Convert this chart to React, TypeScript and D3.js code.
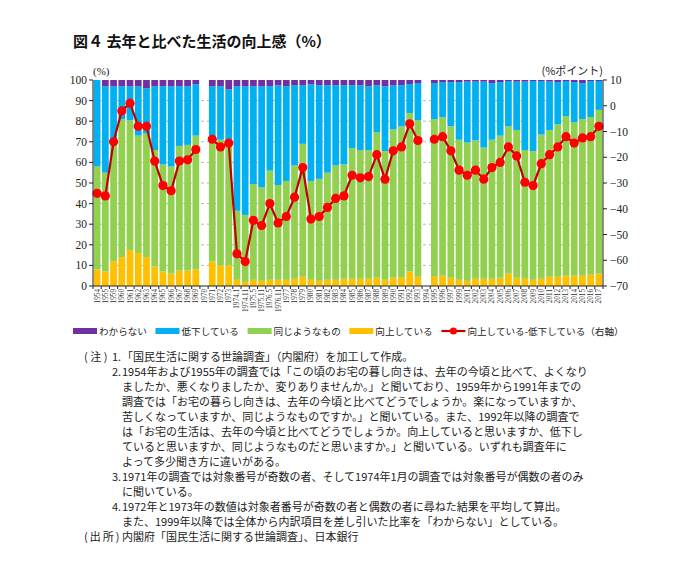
import React from 'react';
import * as d3 from 'd3';

// survey rounds (1970 and 1994 have no survey)
const years = [
  '1954', '1955', '1959', '1960', '1961', '1962', '1963', '1964', '1965', '1966', '1967', '1968', '1969', '1970',
  '1971', '1972', '1973', '1974.1', '1974.11', '1975.5', '1975.11', '1976.5', '1976.11',
  '1977', '1978', '1979', '1980', '1981', '1982', '1983', '1984', '1985', '1986', '1987', '1988', '1989',
  '1990', '1991', '1992', '1993', '1994', '1995', '1996', '1997', '1999',
  '2001', '2002', '2003', '2004', '2005', '2006', '2007', '2008', '2009', '2010', '2011', '2012',
  '2013', '2014', '2015', '2016', '2017',
];

// わからない
const dunno = [
  0, 3, 3, 3, 3, 3, 4, 3, 3, 3, 3, 3, 2, null,
  3, 3, 4.5, 3, 3, 3, 3, 3, 2.5,
  3, 2.5, 2.5, 2, 2.5, 2.5, 2.5, 2.5, 2.5, 2.5, 3, 2.5, 3,
  2.5, 2.5, 2, 1.5, null, 1.5, 1, 1, 1,
  0.8, 0.8, 0.8, 1.5, 1, 0.5, 0.8, 0.8, 0.5, 0.5, 0.8, 1,
  0.5, 1, 1.5, 0.5, 0.5,
];
// 低下している
const down = [
  42, 42, 26, 16, 16.5, 24, 22, 31, 38, 39, 29, 28.5, 25, null,
  25, 26, 24.5, 60.5, 62.5, 47.5, 49, 41, 48.5,
  46, 39, 28.5, 47, 45.5, 42.5, 39, 38.5, 30.5, 31.5, 31, 23, 31.5,
  21.5, 20, 14, 18, null, 17.5, 17, 21.5, 28,
  29.5, 28.5, 32, 27.5, 26, 22, 23.5, 33.2, 34, 26, 23.5, 20.5,
  17, 19.5, 17.5, 17.5, 14,
];
// 同じようなもの
const same = [
  50, 48, 59, 67, 63, 57, 60, 56.5, 52, 52, 60.5, 61, 65, null,
  60, 61, 61, 33.5, 32.5, 46.5, 45.5, 53, 46,
  48, 55, 64.5, 48, 49.5, 52, 55.5, 55.5, 63.5, 62.5, 62.5, 70.5, 62.5,
  72, 73.5, 77, 76, null, 76.5, 77, 73.5, 68,
  67.2, 67.2, 63.7, 67.5, 69, 71.5, 71.7, 62.5, 62.5, 70, 71.2, 74,
  77.5, 74.5, 76, 76.5, 79.5,
];
// 向上している
const up = [
  8, 7, 12, 14, 17.5, 16, 14, 9.5, 7, 6, 7.5, 7.5, 8, null,
  12, 10, 10, 3, 2, 3, 2.5, 3, 3,
  3, 3.5, 4.5, 3, 2.5, 3, 3, 3.5, 3.5, 3.5, 3.5, 4, 3,
  4, 4, 7, 4.5, null, 4.5, 5, 4, 3,
  2.5, 3.5, 3.5, 3.5, 4, 6, 4, 3.5, 3, 3.5, 4.5, 4.5,
  5, 5, 5, 5.5, 6,
];

const leftTicks = [0, 10, 20, 30, 40, 50, 60, 70, 80, 90, 100];
const rightTicks = [10, 0, -10, -20, -30, -40, -50, -60, -70];

const seriesKeys = ['up', 'same', 'down', 'dunno'];
const colors: Record<string, string> = {
  up: '#FFC000',
  same: '#92D050',
  down: '#00B0F0',
  dunno: '#7030A0',
};

const legendItems = [
  { key: 'dunno', label: 'わからない' },
  { key: 'down', label: '低下している' },
  { key: 'same', label: '同じようなもの' },
  { key: 'up', label: '向上している' },
  { key: 'line', label: '向上している-低下している（右軸）' },
];

const notes: [string, string][] = [
  ['1.', '「国民生活に関する世論調査」（内閣府）を加工して作成。'],
  ['2.', '1954年および1955年の調査では「この頃のお宅の暮し向きは、去年の今頃と比べて、よくなり'],
  ['', 'ましたか、悪くなりましたか、変りありませんか。」と聞いており、1959年から1991年までの'],
  ['', '調査では「お宅の暮らし向きは、去年の今頃と比べてどうでしょうか。楽になっていますか、'],
  ['', '苦しくなっていますか、同じようなものですか。」と聞いている。また、1992年以降の調査で'],
  ['', 'は「お宅の生活は、去年の今頃と比べてどうでしょうか。向上していると思いますか、低下し'],
  ['', 'ていると思いますか、同じようなものだと思いますか。」と聞いている。いずれも調査年に'],
  ['', 'よって多少聞き方に違いがある。'],
  ['3.', '1971年の調査では対象番号が奇数の者、そして1974年1月の調査では対象番号が偶数の者のみ'],
  ['', 'に聞いている。'],
  ['4.', '1972年と1973年の数値は対象者番号が奇数の者と偶数の者に尋ねた結果を平均して算出。'],
  ['', 'また、1999年以降では全体から内訳項目を差し引いた比率を「わからない」としている。'],
];

const W = 685;
const H = 570;
const left = 93;
const right = 603;
const top = 80;
const bottom = 286;

const jp = '"Noto Sans CJK JP", sans-serif';
const serif = '"Liberation Serif", "DejaVu Serif", serif';

// rough text width for legend layout (CJK full width, ascii half)
const textW = (s: string, fs: number) =>
  Array.from(s).reduce((a, c) => a + (c.charCodeAt(0) < 256 ? 0.5 : 1) * fs, 0);

export default function App() {
  const rows = years.map((year, i) => ({
    year,
    up: up[i],
    same: same[i],
    down: down[i],
    dunno: dunno[i],
  }));
  const valid = rows.filter((r) => r.up != null);

  const x = d3.scaleBand<string>().domain(years).range([left, right]).paddingInner(0.18).paddingOuter(0.09);
  const y = d3.scaleLinear().domain([0, 100]).range([bottom, top]);
  const yR = d3.scaleLinear().domain([-70, 10]).range([bottom, top]);
  const step = x.step();

  const stacked = d3.stack<any>().keys(seriesKeys)(valid);

  const diff = rows.map((r) => (r.up == null ? null : (r.up as number) - (r.down as number)));
  const line = d3
    .line<number | null>()
    .defined((d) => d != null)
    .x((_, i) => (x(years[i]) as number) + x.bandwidth() / 2)
    .y((d) => yR(d as number));

  // legend layout
  const lfs = 9.6;
  let lx = 73;
  const legendPos = legendItems.map((it) => {
    const p = { ...it, x: lx };
    lx += 26 + textW(it.label, lfs) + 8.5;
    return p;
  });
  const ly = 331;

  return (
    <div style={{ position: 'absolute', left: 0, top: 0 }}>
      <svg width={W} height={H} style={{ display: 'block', background: '#fff' }}>
        <text x={73} y={47} fontFamily={jp} fontWeight="bold" fontSize={15} fill="#111">
          図４ 去年と比べた生活の向上感（%）
        </text>

        <text x={left} y={75} fontFamily={serif} fontSize={11} fill="#222">(%)</text>
        <text x={right} y={75} fontFamily={jp} fontSize={11} fill="#222" textAnchor="end">(%ポイント)</text>

        {/* gridlines */}
        {leftTicks.slice(1, -1).map((t) => (
          <line key={t} x1={left} x2={right} y1={y(t)} y2={y(t)} stroke="#999" strokeDasharray="3,3" strokeWidth={0.7} />
        ))}

        {/* stacked bars */}
        {stacked.map((s) => (
          <g key={s.key} fill={colors[s.key]}>
            {s.map((d: any) => (
              <rect
                key={d.data.year}
                x={x(d.data.year)}
                width={x.bandwidth()}
                y={y(d[1])}
                height={Math.max(0, y(d[0]) - y(d[1]))}
              />
            ))}
          </g>
        ))}

        {/* difference line */}
        <path d={line(diff) || ''} fill="none" stroke="#C00000" strokeWidth={2.2} />
        {diff.map((d, i) =>
          d == null ? null : (
            <circle key={i} cx={(x(years[i]) as number) + x.bandwidth() / 2} cy={yR(d)} r={4.6} fill="#FF0000" />
          )
        )}

        {/* left axis */}
        <line x1={left} x2={left} y1={top} y2={bottom} stroke="#222" strokeWidth={1} />
        {leftTicks.map((t) => (
          <g key={t}>
            <line x1={left - 4} x2={left} y1={y(t)} y2={y(t)} stroke="#222" />
            <text x={left - 6} y={y(t) + 4} textAnchor="end" fontFamily={serif} fontSize={11.5} fill="#222">
              {t}
            </text>
          </g>
        ))}

        {/* right axis */}
        <line x1={right} x2={right} y1={top} y2={bottom} stroke="#222" strokeWidth={1} />
        {rightTicks.map((t) => (
          <g key={t}>
            <line x1={right} x2={right + 4} y1={yR(t)} y2={yR(t)} stroke="#222" />
            <text x={right + 7} y={yR(t) + 4} fontFamily={serif} fontSize={11.5} fill="#222">
              {t < 0 ? '−' + Math.abs(t) : t}
            </text>
          </g>
        ))}

        {/* bottom axis */}
        <line x1={left} x2={right} y1={bottom} y2={bottom} stroke="#222" />
        {years.map((yr, i) => (
          <line key={'t' + yr} x1={left + i * step} x2={left + i * step} y1={bottom} y2={bottom + 3} stroke="#222" />
        ))}
        <line x1={right} x2={right} y1={bottom} y2={bottom + 3} stroke="#222" />
        {years.map((yr) => {
          const cx = (x(yr) as number) + x.bandwidth() / 2;
          return (
            <text
              key={'l' + yr}
              transform={`translate(${cx + 2.5},${bottom + 3}) rotate(-90)`}
              textAnchor="end"
              fontFamily={serif}
              fontSize={7.2}
              fill="#333"
            >
              {yr}
            </text>
          );
        })}

        {/* legend */}
        {legendPos.map((it) => (
          <g key={it.key}>
            {it.key === 'line' ? (
              <>
                <line x1={it.x} x2={it.x + 24} y1={ly} y2={ly} stroke="#C00000" strokeWidth={2.2} />
                <circle cx={it.x + 12} cy={ly} r={3.5} fill="#FF0000" />
              </>
            ) : (
              <rect x={it.x} y={ly - 3} width={24} height={6} fill={colors[it.key]} />
            )}
            <text x={it.x + 26} y={ly + 3.5} fontFamily={jp} fontSize={lfs} fill="#222">
              {it.label}
            </text>
          </g>
        ))}

        {/* notes */}
        <text x={84} y={361} fontFamily={jp} fontSize={11} fill="#222" letterSpacing={2.5}>
          (注)
        </text>
        {notes.map(([num, txt], i) => (
          <g key={i}>
            {num && (
              <text x={112} y={361 + i * 15} fontFamily={jp} fontSize={11} fill="#222">{num}</text>
            )}
            <text x={122} y={361 + i * 15} fontFamily={jp} fontSize={11} fill="#222">{txt}</text>
          </g>
        ))}
        <text x={84} y={361 + 12 * 15} fontFamily={jp} fontSize={11} fill="#222" letterSpacing={2}>
          (出所)
        </text>
        <text x={122} y={361 + 12 * 15} fontFamily={jp} fontSize={11} fill="#222">
          内閣府「国民生活に関する世論調査」、日本銀行
        </text>
      </svg>
    </div>
  );
}
